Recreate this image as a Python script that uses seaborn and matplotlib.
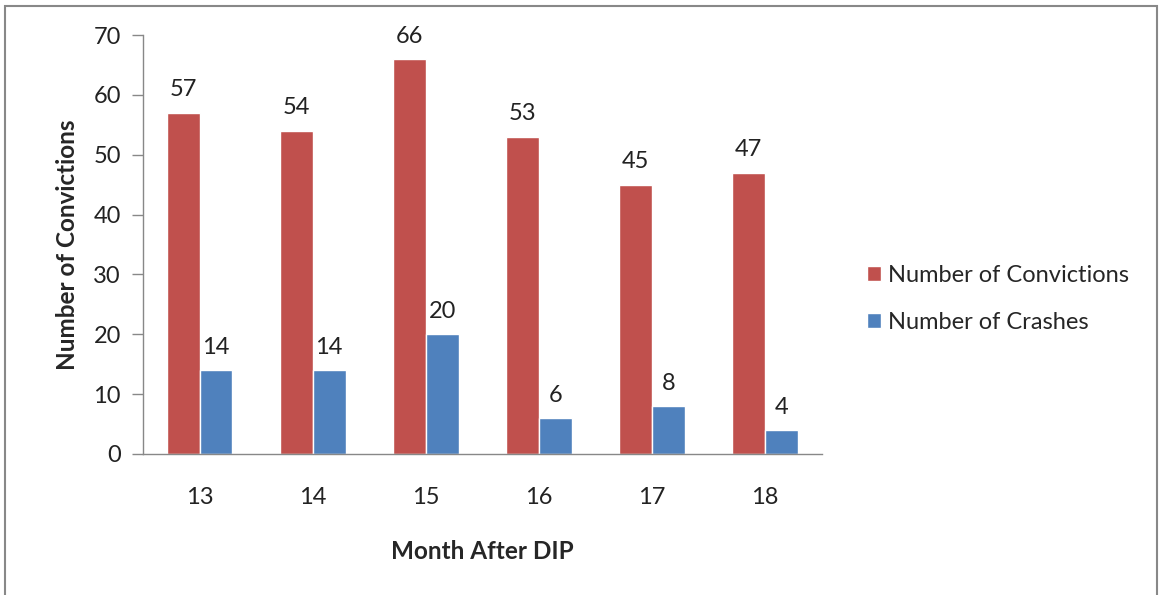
import pandas as pd
import matplotlib.pyplot as plt
import seaborn as sns

months = ["13", "14", "15", "16", "17", "18"]
convictions = [57, 54, 66, 53, 45, 47]
crashes = [14, 14, 20, 6, 8, 4]
series_names = ["Number of Convictions", "Number of Crashes"]
y_ticks = [0, 10, 20, 30, 40, 50, 60, 70]

sns.set_theme(style="white")
plt.rcParams["font.family"] = ["Lato", "DejaVu Sans"]

df = pd.DataFrame({
    "month": months * 2,
    "value": convictions + crashes,
    "series": [series_names[0]] * len(months) + [series_names[1]] * len(months),
})

fig = plt.figure(figsize=(11.59, 5.95), dpi=100)
ax = fig.add_axes([0.1234, 0.237, 0.5856, 0.704])

sns.barplot(data=df, x="month", y="value", hue="series", order=months,
            hue_order=series_names, palette=["#C0504D", "#4F81BD"],
            width=0.58, gap=0, saturation=1, errorbar=None, ax=ax)

for cont in ax.containers:
    ax.bar_label(cont, padding=9, fontsize=17, color="#222222")

ax.set_ylim(0, 70)
ax.set_xlim(-0.5, 5.5)
ax.set_yticks(y_ticks)
ax.tick_params(axis="y", which="both", left=True, length=8, width=1,
               color="#888888", labelsize=17, pad=8, labelcolor="#222222")
ax.tick_params(axis="x", length=0, labelsize=17, pad=24, labelcolor="#222222")
for side in ["top", "right"]:
    ax.spines[side].set_visible(False)
for side in ["left", "bottom"]:
    ax.spines[side].set_color("#888888")
    ax.spines[side].set_linewidth(1)
ax.set_xlabel("Month After DIP", fontsize=17.5, fontweight="bold", labelpad=23)
ax.set_ylabel("Number of Convictions", fontsize=17.5, fontweight="bold", labelpad=10)

ax.legend(loc="center left", bbox_to_anchor=(1.035, 0.37), frameon=False,
          fontsize=17, handlelength=0.6, handleheight=0.6, handletextpad=0.3,
          labelspacing=1.1)

# outer frame of the chart area
fig.patches.append(plt.Rectangle((0.004, -0.01), 0.994, 1.0, transform=fig.transFigure,
                                 fill=False, edgecolor="#888888", linewidth=1.5))

fig.savefig("out.png", dpi=100)
